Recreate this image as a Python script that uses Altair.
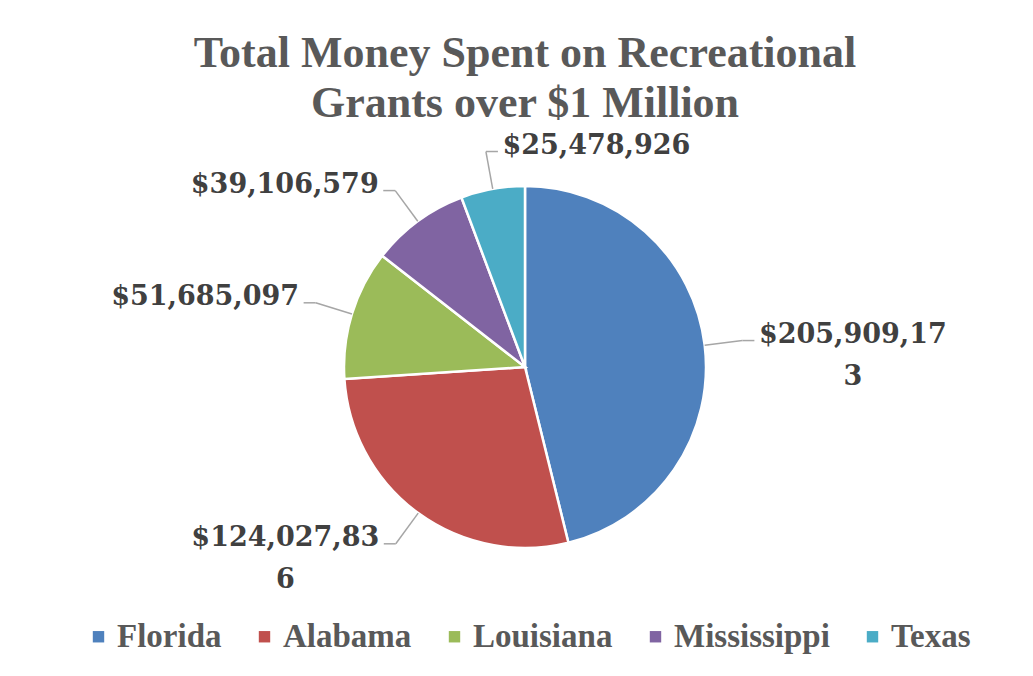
import altair as alt
import pandas as pd

# ---- data ----
states = ["Florida", "Alabama", "Louisiana", "Mississippi", "Texas"]
amounts = [205909173, 124027836, 51685097, 39106579, 25478926]
colors = ["#4F81BD", "#C0504D", "#9BBB59", "#8064A2", "#4BACC6"]
title_lines = ["Total Money Spent on Recreational", "Grants over $1 Million"]


def wrap(s, n=11):
    return "\n".join(s[i:i + n] for i in range(0, len(s), n))


labels = [wrap(f"${a:,}") for a in amounts]

df = pd.DataFrame({"state": states, "amount": amounts,
                   "idx": list(range(len(states))), "label": labels})

# ---- layout / style ----
W, H = 1000, 474
CX, CY = W / 2, H / 2
R = 181          # pie radius
E = 38           # leader elbow extension
TAIL = 12        # horizontal leader tail
GAP = 5
CW = 17.0        # approx char width of label font

base = (
    alt.Chart(df)
    .transform_window(cum="sum(amount)", sort=[alt.SortField("idx")], frame=[None, 0])
    .transform_joinaggregate(total="sum(amount)")
    .transform_calculate(mid="2*PI*(datum.cum - datum.amount/2)/datum.total")
    .transform_calculate(
        ex=f"{CX} + {R}*sin(datum.mid)",
        ey=f"{CY} - {R}*cos(datum.mid)",
        bx=f"{CX} + {R + E}*sin(datum.mid)",
        by=f"{CY} - {R + E}*cos(datum.mid)",
        side="sin(datum.mid) > -0.2 ? 1 : -1",
    )
    .transform_calculate(
        tx=f"datum.bx + datum.side*{TAIL}",
        w=f"length(split(datum.label, '\\n')[0])*{CW}",
        ty="datum.by + 2",
    )
    .transform_calculate(lx=f"datum.tx + datum.side*({GAP} + datum.w/2)")
)

pie = alt.Chart(df).mark_arc(outerRadius=R, stroke="white", strokeWidth=2.5).encode(
    theta=alt.Theta("amount:Q", stack=True),
    color=alt.Color(
        "state:N",
        scale=alt.Scale(domain=states, range=colors),
        sort=states,
        legend=alt.Legend(
            title=None, orient="none", legendX=57, legendY=490,
            direction="horizontal", symbolType="square", symbolSize=130,
            symbolStrokeWidth=0, labelFont="Liberation Serif", labelFontSize=33,
            labelFontWeight="bold", labelColor="#595959", labelOffset=2,
            labelLimit=400, columnPadding=26, padding=0,
        ),
    ),
    order=alt.Order("idx:Q"),
)

lead1 = base.mark_rule(color="#A6A6A6", strokeWidth=1.5).encode(
    x=alt.X("ex:Q", scale=None, axis=None), y=alt.Y("ey:Q", scale=None, axis=None),
    x2="bx:Q", y2="by:Q",
)
lead2 = base.mark_rule(color="#A6A6A6", strokeWidth=1.5).encode(
    x=alt.X("bx:Q", scale=None, axis=None), y=alt.Y("by:Q", scale=None, axis=None),
    x2="tx:Q", y2="by:Q",
)
txt = base.mark_text(
    font="DejaVu Serif", fontSize=27, fontWeight="bold", color="#404040",
    align="center", baseline="alphabetic", lineBreak="\n", lineHeight=42,
).encode(
    x=alt.X("lx:Q", scale=None, axis=None), y=alt.Y("ty:Q", scale=None, axis=None),
    text="label:N",
)

chart = (
    alt.layer(pie, lead1, lead2, txt)
    .properties(
        width=W, height=H,
        title=alt.TitleParams(
            text=title_lines, anchor="middle", font="Liberation Serif", fontSize=44,
            fontWeight="bold", color="#595959", lineHeight=50, offset=4,
        ),
        padding={"left": 17, "top": 122, "right": 0, "bottom": 60},
        autosize=alt.AutoSizeParams(type="none"),
    )
    .configure_view(stroke=None)
)

chart.save("out.html", embed_options={"renderer": "svg", "actions": False})
